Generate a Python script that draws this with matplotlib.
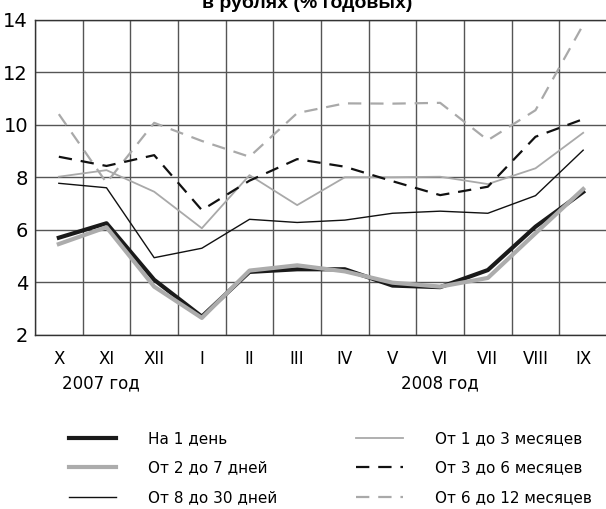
import numpy as np
import matplotlib
matplotlib.use("Agg")
import matplotlib.pyplot as plt

# months Oct 2007 - Sep 2008
months = ["X", "XI", "XII", "I", "II", "III", "IV", "V", "VI", "VII", "VIII", "IX"]

day1 = [5.7, 6.25, 4.1, 2.7, 4.4, 4.5, 4.5, 3.88, 3.82, 4.47, 6.12, 7.44]
days2_7 = [5.46, 6.1, 3.84, 2.65, 4.45, 4.65, 4.42, 3.99, 3.84, 4.17, 5.87, 7.55]
days8_30 = [7.77, 7.6, 4.94, 5.3, 6.4, 6.28, 6.37, 6.63, 6.71, 6.63, 7.3, 9.03]
m1_3 = [8.02, 8.27, 7.45, 6.06, 8.08, 6.94, 8.0, 8.0, 8.02, 7.74, 8.34, 9.69]
m3_6 = [8.78, 8.43, 8.84, 6.75, 7.87, 8.69, 8.4, 7.85, 7.32, 7.64, 9.54, 10.21]
m6_12 = [10.4, 7.79, 10.07, 9.38, 8.78, 10.44, 10.81, 10.8, 10.83, 9.41, 10.55, 13.8]

labels = ["На 1 день", "От 2 до 7 дней", "От 8 до 30 дней",
          "От 1 до 3 месяцев", "От 3 до 6 месяцев", "От 6 до 12 месяцев"]

font = ["Liberation Sans Narrow", "DejaVu Sans Condensed", "DejaVu Sans"]
plt.rcParams['font.family'] = font

fig = plt.figure(figsize=(6.06, 5.09), dpi=100)
ax = fig.add_axes([35 / 606, 1 - 335 / 509, 572 / 606, 315.5 / 509])

x = np.arange(len(months))
grey = "#a9a9a9"

l6, = ax.plot(x, m6_12, color=grey, lw=1.6, dashes=(6, 4), label=labels[5])
l4, = ax.plot(x, m1_3, color=grey, lw=1.3, label=labels[3])
l5, = ax.plot(x, m3_6, color="#111111", lw=1.6, dashes=(6, 4), label=labels[4])
l3, = ax.plot(x, days8_30, color="#111111", lw=1.0, label=labels[2])
l1, = ax.plot(x, day1, color="#1a1a1a", lw=3.0, label=labels[0])
l2, = ax.plot(x, days2_7, color="#acacac", lw=3.0, label=labels[1])

ax.set_xlim(-0.5, 11.5)
ax.set_ylim(2, 14)
ax.set_yticks(np.arange(2, 15, 2))
ax.set_xticks(x)
ax.set_xticklabels(months, fontsize=12)
ax.set_xticks(np.arange(-0.5, 12, 1), minor=True)
ax.tick_params(axis="x", which="both", length=0, pad=11)
ax.tick_params(axis="y", length=0, labelsize=14, pad=5)
ax.grid(True, axis="x", which="minor", color="#555555", lw=1.0)
ax.grid(True, axis="y", which="major", color="#555555", lw=1.0)
ax.set_axisbelow(True)
for s in ["top", "left", "bottom"]:
    ax.spines[s].set_color("#333333")
    ax.spines[s].set_linewidth(1.0)
ax.spines["right"].set_visible(False)

ax.text(0.88, -0.152, "2007 год", transform=ax.get_xaxis_transform(),
        ha="center", va="center", fontsize=12)
ax.text(8, -0.152, "2008 год", transform=ax.get_xaxis_transform(),
        ha="center", va="center", fontsize=12)

fig.text(307 / 606, 1 - 8 / 509, "в рублях (% годовых)", ha="center", va="baseline",
         fontsize=14, fontweight="bold", family=["Liberation Sans", "DejaVu Sans"])

leg_kw = dict(frameon=False, fontsize=11, handlelength=3.1, handletextpad=2.1,
              labelspacing=0.95, borderpad=0, borderaxespad=0, loc="upper left")
leg1 = fig.legend([l1, l2, l3], labels[:3], bbox_to_anchor=(69 / 606, 1 - 431 / 509), **leg_kw)
leg2 = fig.legend([l4, l5, l6], labels[3:], bbox_to_anchor=(356 / 606, 1 - 431 / 509), **leg_kw)

fig.savefig("out.png", dpi=100)
